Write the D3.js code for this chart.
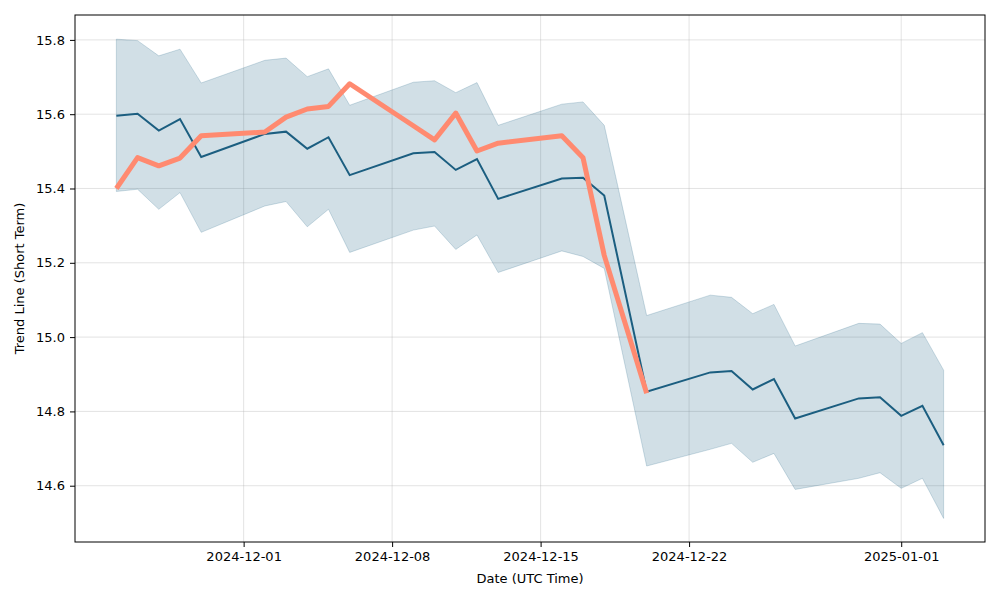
<!DOCTYPE html>
<html>
<head>
<meta charset="utf-8">
<script src="https://cdn.jsdelivr.net/npm/d3@7"></script>
<style>
  body { margin: 0; background: #fff; }
  text { font-family: "DejaVu Sans", sans-serif; }
</style>
</head>
<body>
<div id="chart"></div>
<script>
// data
const dates = ["2024-11-25","2024-11-26","2024-11-27","2024-11-28","2024-11-29",
  "2024-12-02","2024-12-03","2024-12-04","2024-12-05","2024-12-06",
  "2024-12-09","2024-12-10","2024-12-11","2024-12-12","2024-12-13",
  "2024-12-16","2024-12-17","2024-12-18","2024-12-20",
  "2024-12-23","2024-12-24","2024-12-25","2024-12-26","2024-12-27",
  "2024-12-30","2024-12-31","2025-01-01","2025-01-02","2025-01-03"];
const trend = [15.596,15.601,15.556,15.587,15.485,
  15.547,15.553,15.507,15.538,15.436,
  15.495,15.498,15.450,15.479,15.372,
  15.427,15.429,15.381,14.853,
  14.905,14.909,14.859,14.887,14.781,
  14.835,14.838,14.788,14.815,14.709];
const upper = [15.802,15.798,15.757,15.775,15.684,
  15.745,15.751,15.701,15.722,15.624,
  15.686,15.690,15.658,15.685,15.570,
  15.627,15.633,15.570,15.058,
  15.113,15.107,15.063,15.088,14.976,
  15.037,15.035,14.983,15.012,14.911];
const lower = [15.392,15.398,15.344,15.389,15.282,
  15.353,15.365,15.297,15.344,15.228,
  15.288,15.299,15.236,15.275,15.174,
  15.232,15.217,15.185,14.653,
  14.698,14.714,14.663,14.687,14.590,
  14.620,14.635,14.593,14.620,14.512];
// actual price, only up to 12-20
const actual = [15.400,15.483,15.461,15.482,15.542,
  15.552,15.592,15.614,15.621,15.682,
  15.569,15.531,15.603,15.501,15.522,
  15.542,15.483,15.220,14.849];
const xTicks = ["2024-12-01","2024-12-08","2024-12-15","2024-12-22","2025-01-01"];
const yTicks = [14.6,14.8,15.0,15.2,15.4,15.6,15.8];

const svgWidth = 1000, svgHeight = 600;
const margin = {top: 15, right: 15, bottom: 58, left: 75};
const chartWidth = svgWidth - margin.left - margin.right;
const chartHeight = svgHeight - margin.top - margin.bottom;

const parse = d3.utcParse("%Y-%m-%d");
const rows = dates.map((d, i) => ({
  date: parse(d), trend: trend[i], upper: upper[i], lower: lower[i], actual: actual[i]
}));

const svg = d3.select("#chart").append("svg")
  .attr("width", svgWidth).attr("height", svgHeight);
const g = svg.append("g").attr("transform", `translate(${margin.left},${margin.top})`);

const x0 = rows[0].date.getTime(), x1 = rows[rows.length - 1].date.getTime();
const pad = (x1 - x0) * 0.05;
const xScale = d3.scaleUtc().domain([new Date(x0 - pad), new Date(x1 + pad)]).range([0, chartWidth]);
const yScale = d3.scaleLinear().domain([14.4485, 15.867]).range([chartHeight, 0]);

// grid
g.append("g").selectAll("line").data(yTicks).enter().append("line")
  .attr("x1", 0).attr("x2", chartWidth)
  .attr("y1", d => yScale(d)).attr("y2", d => yScale(d))
  .attr("stroke", "#b0b0b0").attr("stroke-opacity", 0.35).attr("stroke-width", 1);
g.append("g").selectAll("line").data(xTicks).enter().append("line")
  .attr("x1", d => xScale(parse(d))).attr("x2", d => xScale(parse(d)))
  .attr("y1", 0).attr("y2", chartHeight)
  .attr("stroke", "#b0b0b0").attr("stroke-opacity", 0.35).attr("stroke-width", 1);

// confidence band
const area = d3.area().x(d => xScale(d.date)).y0(d => yScale(d.lower)).y1(d => yScale(d.upper));
g.append("path").datum(rows).attr("d", area)
  .attr("fill", "#1b5e80").attr("fill-opacity", 0.2)
  .attr("stroke", "#1b5e80").attr("stroke-opacity", 0.2).attr("stroke-width", 1);

// trend line
const line = d3.line().x(d => xScale(d.date)).y(d => yScale(d.trend));
g.append("path").datum(rows).attr("d", line)
  .attr("fill", "none").attr("stroke", "#1b5e80").attr("stroke-width", 2);

// actual price line
const actLine = d3.line().x(d => xScale(d.date)).y(d => yScale(d.actual));
g.append("path").datum(rows.filter(d => d.actual !== undefined)).attr("d", actLine)
  .attr("fill", "none").attr("stroke", "#ff8a70").attr("stroke-width", 5)
  .attr("stroke-linejoin", "round");

// axes
const bottomAxis = d3.axisBottom(xScale).tickValues(xTicks.map(parse))
  .tickFormat(d3.utcFormat("%Y-%m-%d")).tickSize(5).tickPadding(5);
const xAxis = g.append("g").attr("transform", `translate(0,${chartHeight})`).call(bottomAxis);
const leftAxis = d3.axisLeft(yScale).tickValues(yTicks).tickFormat(d3.format(".1f")).tickSize(5).tickPadding(5);
const yAxis = g.append("g").call(leftAxis);
[xAxis, yAxis].forEach(a => {
  a.select(".domain").remove();
  a.selectAll("text").attr("font-size", "13px").attr("fill", "#000")
    .attr("font-family", "DejaVu Sans, sans-serif");
  a.selectAll("line").attr("stroke", "#000");
});

// frame
g.append("rect").attr("width", chartWidth).attr("height", chartHeight)
  .attr("fill", "none").attr("stroke", "#000").attr("stroke-width", 1);

// labels
g.append("text").attr("x", chartWidth / 2).attr("y", chartHeight + 41)
  .attr("text-anchor", "middle").attr("font-size", "13px").text("Date (UTC Time)");
g.append("text").attr("transform", "rotate(-90)")
  .attr("x", -chartHeight / 2).attr("y", -51)
  .attr("text-anchor", "middle").attr("font-size", "13px").text("Trend Line (Short Term)");
</script>
</body>
</html>
